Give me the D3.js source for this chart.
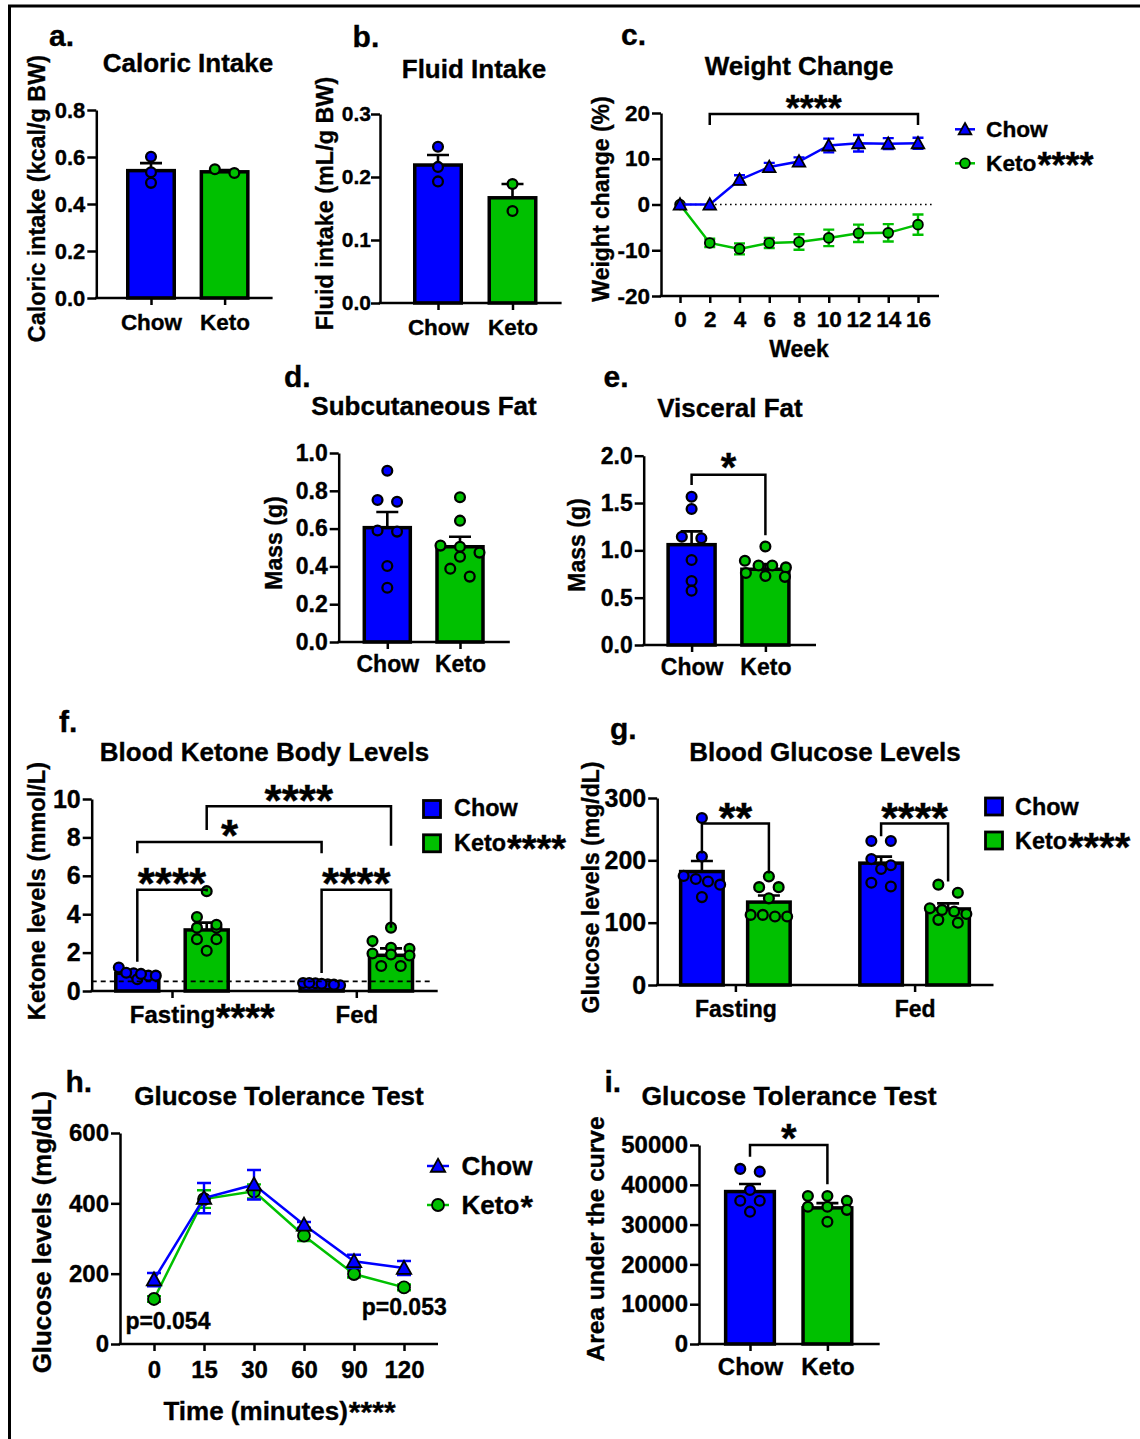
<!DOCTYPE html>
<html>
<head>
<meta charset="utf-8">
<script src="https://cdn.jsdelivr.net/npm/d3@7"></script>
<style>
  body { margin: 0; background: #fff; }
  text { font-family: "Liberation Sans", Arial, Helvetica, sans-serif; font-weight: bold; fill: #000; stroke: #000; stroke-width: 0.35px; }
</style>
</head>
<body>
<div id="chart"></div>
<script>
const groups = ["Chow", "Keto"];
const meals = ["Fasting", "Fed"];

// a. caloric intake
const calMean = [0.542, 0.537];
const calSem = [0.032, 0.008];
const calChow = [0.601, 0.535, 0.49];
const calKeto = [0.532, 0.548];

// b. fluid intake
const fluMean = [0.219, 0.167];
const fluSem = [0.016, 0.022];
const fluChow = [0.248, 0.216, 0.193];
const fluKeto = [0.189, 0.146];

// c. weight change
const weeks = [0, 2, 4, 6, 8, 10, 12, 14, 16];
const wtChow = [0, 0, 5.4, 8.2, 9.4, 12.9, 13.4, 13.3, 13.4];
const wtChowErr = [0, 0, 1.0, 0.9, 0.9, 1.5, 1.8, 1.2, 1.2];
const wtKeto = [0, -8.4, -9.7, -8.4, -8.2, -7.3, -6.3, -6.2, -4.4];
const wtKetoErr = [0, 0.9, 1.2, 1.1, 1.7, 1.8, 1.9, 1.9, 2.2];

// d. subcutaneous fat
const subMean = [0.605, 0.504];
const subSem = [0.083, 0.053];
const subChow = [0.906, 0.742, 0.751, 0.584, 0.59, 0.402, 0.287];
const subKeto = [0.766, 0.642, 0.504, 0.473, 0.51, 0.451, 0.388, 0.346];

// e. visceral fat
const visMean = [1.06, 0.80];
const visSem = [0.14, 0.054];
const visChow = [1.567, 1.437, 1.144, 1.127, 0.898, 0.676, 0.574];
const visKeto = [1.04, 0.89, 0.84, 0.84, 0.82, 0.76, 0.73, 0.72];

// f. ketone bodies  (rows: Fasting, Fed; cols: Chow, Keto)
const ketMean = [[0.92, 3.18], [0.37, 1.86]];
const ketSem = [[0.08, 0.38], [0.03, 0.36]];
const ketPts = [
  [[0.80, 0.92, 0.80, 1.22, 0.61, 0.89, 0.95], [5.2, 3.85, 3.3, 3.3, 3.45, 2.7, 2.7, 2.1]],
  [[0.40, 0.42, 0.35, 0.30, 0.38, 0.33, 0.42], [3.3, 2.6, 2.25, 2.2, 1.85, 1.9, 1.95, 1.3, 1.3]]
];
const ketThreshold = 0.5;

// g. blood glucose
const gluMean = [[182, 133], [195.5, 122]];
const gluSem = [[17, 10.5], [10.5, 9]];
const gluPts = [
  [[268, 206, 175, 166, 170, 161, 141], [174, 157, 157, 139, 110, 112.5, 110, 112.5]],
  [[231, 231, 202, 192, 186, 158, 164], [161, 148, 118, 120.5, 123, 114, 100, 104.5]]
];

// h. glucose tolerance test
const gttTimes = ["0", "15", "30", "60", "90", "120"];
const gttChow = [183, 415, 453, 339, 235, 216];
const gttChowErr = [19, 43, 42, 8, 19, 20];
const gttKeto = [128, 412, 434, 308, 199, 161];
const gttKetoErr = [8, 25, 20, 15, 10, 8];

// i. area under the curve
const aucMean = [38300, 34200];
const aucSem = [1900, 1200];
const aucChow = [43300, 44000, 38700, 36000, 36000, 33250];
const aucKeto = [36000, 37200, 37200, 34500, 34500, 33700, 30700];

const BLUE = "#0000ff";
const GREEN = "#00c000";
const colors = [BLUE, GREEN];
const STAR_K = 0.58;

const svg = d3.select("#chart").append("svg")
  .attr("width", 1140)
  .attr("height", 1439);

// frame
svg.append("path")
  .attr("d", "M9.5,1439V6H1140")
  .attr("fill", "none").attr("stroke", "#000").attr("stroke-width", 3);

/* ------------------------------- helpers ------------------------------- */
const text = (x, y, str, fs, anchor = "start") =>
  svg.append("text").attr("x", x).attr("y", y)
    .attr("font-size", fs).attr("text-anchor", anchor).text(str);

const yLabel = (bx, cy, str, fs) =>
  svg.append("text")
    .attr("transform", `translate(${bx},${cy}) rotate(-90)`)
    .attr("text-anchor", "middle").attr("font-size", fs).text(str);

const stars = (x, cy, n, fs, anchor = "middle") =>
  text(x, cy + STAR_K * fs, "*".repeat(n), fs, anchor);

// text followed by bigger stars
const withStars = (x, y, str, fs, n, sfs, scy, anchor = "start") => {
  const t = text(x, y, str, fs, anchor);
  const len = t.node().getComputedTextLength();
  if (anchor === "start") {
    stars(x + len + 1, scy, n, sfs, "start");
  } else {
    // centre text + stars together
    const s = stars(0, scy, n, sfs, "start");
    const sl = s.node().getComputedTextLength();
    const x0 = x - (len + sl) / 2;
    t.attr("x", x0).attr("text-anchor", "start");
    s.attr("x", x0 + len + 1);
  }
};

function yAxis(y, x0, ticks, fmt, fs, pad = 2) {
  const g = svg.append("g")
    .attr("transform", `translate(${x0},0)`)
    .call(d3.axisLeft(y).tickValues(ticks).tickFormat(fmt)
      .tickSize(9).tickSizeOuter(0).tickPadding(pad));
  g.attr("font-size", fs);
  g.select(".domain").attr("stroke-width", 2.5);
  g.selectAll(".tick line").attr("stroke-width", 2.5);
  return g;
}

function xAxis(x, y0, xs, xe, labOff, fs, fmt) {
  svg.append("line")
    .attr("x1", xs - 1.25).attr("x2", xe)
    .attr("y1", y0).attr("y2", y0)
    .attr("stroke", "#000").attr("stroke-width", 2.5);
  const ax = d3.axisBottom(x).tickSize(7).tickSizeOuter(0);
  if (fmt) ax.tickFormat(fmt);
  const g = svg.append("g")
    .attr("transform", `translate(0,${y0})`)
    .call(ax);
  g.select(".domain").remove();
  g.attr("font-size", fs);
  g.selectAll(".tick line").attr("stroke-width", 2.5);
  g.selectAll(".tick text").attr("y", labOff).attr("dy", null);
  return g;
}

function bracket(x1, x2, yTop, yL, yR) {
  svg.append("path")
    .attr("d", `M${x1},${yL}V${yTop}H${x2}V${yR}`)
    .attr("fill", "none").attr("stroke", "#000").attr("stroke-width", 2.5);
}

// GraphPad-like scatter: points binned by height, each row spread symmetrically
function spread(vals, y, bw, d = 9, s = 19.5) {
  const order = d3.range(vals.length).sort((a, b) => vals[b] - vals[a]);
  const off = vals.map(() => 0);
  let bin = [], top = null;
  const flush = () => {
    const n = bin.length;
    const step = n > 1 ? Math.min(s, (bw - 6) / (n - 1)) : 0;
    bin.forEach((k, j) => { off[k] = (j - (n - 1) / 2) * step; });
  };
  for (const k of order) {
    const py = y(vals[k]);
    if (top === null || py - top >= d) { flush(); bin = []; top = py; }
    bin.push(k);
  }
  flush();
  return off;
}

function bar(cx, y, bw, mean, sem, pts, color) {
  svg.append("rect")
    .attr("x", cx - bw / 2).attr("y", y(mean))
    .attr("width", bw).attr("height", y(0) - y(mean))
    .attr("fill", color).attr("stroke", "#000").attr("stroke-width", 3.5);
  const ye = y(mean + sem);
  svg.append("path")
    .attr("d", `M${cx},${y(mean)}V${ye}M${cx - 11},${ye}H${cx + 11}`)
    .attr("fill", "none").attr("stroke", "#000").attr("stroke-width", 2.6);
  const off = spread(pts, y, bw);
  svg.append("g").selectAll("circle")
    .data(pts)
    .join("circle")
    .attr("cx", (d, i) => cx + off[i])
    .attr("cy", d => y(d))
    .attr("r", 4.9)
    .attr("fill", color).attr("stroke", "#000").attr("stroke-width", 2.3);
}

function marker(type, cx, cy, sz, color) {
  if (type === "tri") {
    svg.append("path")
      .attr("d", `M${cx},${cy - sz}L${cx + sz},${cy + sz * 0.8}L${cx - sz},${cy + sz * 0.8}Z`)
      .attr("fill", color).attr("stroke", "#000").attr("stroke-width", 1.8);
  } else {
    svg.append("circle")
      .attr("cx", cx).attr("cy", cy).attr("r", sz * 0.75)
      .attr("fill", color).attr("stroke", "#000").attr("stroke-width", 1.8);
  }
}

function lineSeries(x, y, xs, vals, err, color, type, sz, capW) {
  svg.append("path")
    .attr("d", d3.line()(xs.map((t, i) => [x(t), y(vals[i])])))
    .attr("fill", "none").attr("stroke", color).attr("stroke-width", 2.5);
  xs.forEach((t, i) => {
    if (!err[i]) return;
    const px = x(t), y1 = y(vals[i] + err[i]), y2 = y(vals[i] - err[i]);
    svg.append("path")
      .attr("d", `M${px},${y1}V${y2}M${px - capW / 2},${y1}H${px + capW / 2}M${px - capW / 2},${y2}H${px + capW / 2}`)
      .attr("fill", "none").attr("stroke", color).attr("stroke-width", 2.4);
  });
  xs.forEach((t, i) => marker(type, x(t), y(vals[i]), sz, color));
}

function lineLegend(x1, x2, cy, type, sz, color) {
  svg.append("line").attr("x1", x1).attr("x2", x2).attr("y1", cy).attr("y2", cy)
    .attr("stroke", color).attr("stroke-width", 2.5);
  marker(type, (x1 + x2) / 2, cy, sz, color);
}

function boxLegend(cx, cy, color) {
  svg.append("rect").attr("x", cx - 8.5).attr("y", cy - 8.5)
    .attr("width", 17).attr("height", 17)
    .attr("fill", color).attr("stroke", "#000").attr("stroke-width", 2.8);
}

const f1 = d3.format(".1f");
const fd = d => String(d);

/* ------------------------------- a. ------------------------------- */
{
  const y = d3.scaleLinear([0, 0.8], [298, 110]);
  const x = d3.scalePoint(groups, [151, 224.6]);
  bar(x("Chow"), y, 46.5, calMean[0], calSem[0], calChow, BLUE);
  bar(x("Keto"), y, 46.5, calMean[1], calSem[1], calKeto, GREEN);
  yAxis(y, 96.3, [0, 0.2, 0.4, 0.6, 0.8], f1, 22);
  xAxis(x, 298, 96.3, 272.6, 32, 22.5);
  text(49, 46, "a.", 30);
  text(188, 72, "Caloric Intake", 26, "middle");
  yLabel(45, 198.5, "Caloric intake (kcal/g BW)", 23.4);
}

/* ------------------------------- b. ------------------------------- */
{
  const y = d3.scaleLinear([0, 0.3], [303, 114]);
  const x = d3.scalePoint(groups, [438, 512.5]);
  bar(x("Chow"), y, 46.5, fluMean[0], fluSem[0], fluChow, BLUE);
  bar(x("Keto"), y, 46.5, fluMean[1], fluSem[1], fluKeto, GREEN);
  yAxis(y, 380, [0, 0.1, 0.2, 0.3], f1, 21, 0);
  xAxis(x, 303, 380, 561.6, 32, 22.5);
  text(352.6, 47, "b.", 30);
  text(474, 78, "Fluid Intake", 26, "middle");
  yLabel(333, 203.5, "Fluid intake (mL/g BW)", 23.4);
}

/* ------------------------------- c. ------------------------------- */
{
  const x = d3.scaleLinear([0, 16], [680, 918]);
  const y = d3.scaleLinear([-20, 20], [296, 113]);
  svg.append("line")
    .attr("x1", x(0)).attr("x2", 933.5).attr("y1", y(0)).attr("y2", y(0))
    .attr("stroke", "#000").attr("stroke-width", 1.6).attr("stroke-dasharray", "1.6,3.4");
  lineSeries(x, y, weeks, wtKeto, wtKetoErr, GREEN, "circ", 6.5, 11);
  lineSeries(x, y, weeks, wtChow, wtChowErr, BLUE, "tri", 6.3, 11);
  yAxis(y, 661, [-20, -10, 0, 10, 20], fd, 22.5);
  xAxis(x, 296, 661, 939, 31, 22.5, fd);
  text(799, 357, "Week", 23, "middle");
  bracket(x(2), x(16), 114, 125, 125);
  stars((x(2) + x(16)) / 2, 100, 4, 36);
  lineLegend(955, 975, 129.3, "tri", 6.3, BLUE);
  text(986, 136.7, "Chow", 22.7);
  lineLegend(955, 975, 163.3, "circ", 6.5, GREEN);
  withStars(986, 170.7, "Keto", 22.7, 4, 36, 157);
  text(621, 45, "c.", 30);
  text(799, 75, "Weight Change", 26, "middle");
  yLabel(609, 199, "Weight change (%)", 23);
}

/* ------------------------------- d. ------------------------------- */
{
  const y = d3.scaleLinear([0, 1], [642, 453]);
  const x = d3.scalePoint(groups, [387.3, 460]);
  bar(x("Chow"), y, 46, subMean[0], subSem[0], subChow, BLUE);
  bar(x("Keto"), y, 46, subMean[1], subSem[1], subKeto, GREEN);
  yAxis(y, 338.7, [0, 0.2, 0.4, 0.6, 0.8, 1.0], f1, 23);
  xAxis(x, 642, 338.7, 509.8, 30, 23);
  text(284, 387, "d.", 30);
  text(424, 415, "Subcutaneous Fat", 26, "middle");
  yLabel(282, 543, "Mass (g)", 23);
}

/* ------------------------------- e. ------------------------------- */
{
  const y = d3.scaleLinear([0, 2], [645, 455.7]);
  const x = d3.scalePoint(groups, [691.6, 765.4]);
  bar(x("Chow"), y, 47, visMean[0], visSem[0], visChow, BLUE);
  bar(x("Keto"), y, 47, visMean[1], visSem[1], visKeto, GREEN);
  yAxis(y, 643.7, [0, 0.5, 1.0, 1.5, 2.0], f1, 23);
  xAxis(x, 645, 643.7, 816, 30, 23);
  bracket(x("Chow"), x("Keto"), y(1.80), y(1.69), y(1.16));
  stars((x("Chow") + x("Keto")) / 2, y(1.80) - 16.5, 1, 40);
  text(603.6, 387, "e.", 30);
  text(730, 417, "Visceral Fat", 26, "middle");
  yLabel(585, 545, "Mass (g)", 23);
}

/* ------------------------------- f. ------------------------------- */
{
  const y = d3.scaleLinear([0, 10], [991, 799]);
  const xg = d3.scalePoint(meals, [172, 356.3]);
  const xs = d3.scalePoint(groups, [-34.7, 34.7]);
  const cx = (m, g) => xg(meals[m]) + xs(groups[g]);
  meals.forEach((m, mi) => groups.forEach((g, gi) =>
    bar(cx(mi, gi), y, 43, ketMean[mi][gi], ketSem[mi][gi], ketPts[mi][gi], colors[gi])));
  svg.append("line")
    .attr("x1", 91.7).attr("x2", 432.8).attr("y1", y(ketThreshold)).attr("y2", y(ketThreshold))
    .attr("stroke", "#000").attr("stroke-width", 1.6).attr("stroke-dasharray", "5,4");
  yAxis(y, 91.7, [0, 2, 4, 6, 8, 10], fd, 25);
  const ax = xAxis(xg, 991, 91.7, 437.7, 32, 24);
  ax.selectAll(".tick text").filter(d => d === "Fasting").each(function () {
    const len = this.getComputedTextLength();
    stars(xg("Fasting") + len / 2 + 1, 1009, 4, 38, "start");
  });
  bracket(cx(0, 0), cx(0, 1), y(5.27), y(1.52), y(5.18));
  stars((cx(0, 0) + cx(0, 1)) / 2, y(5.27) - 16.5, 4, 44);
  bracket(cx(1, 0), cx(1, 1), y(5.27), y(0.94), y(3.29));
  stars((cx(1, 0) + cx(1, 1)) / 2, y(5.27) - 16.5, 4, 44);
  bracket(cx(0, 0), cx(1, 0), y(7.76), y(7.17), y(7.17));
  stars((cx(0, 0) + cx(1, 0)) / 2, y(7.76) - 16.5, 1, 44);
  bracket(cx(0, 1), cx(1, 1), y(9.62), y(8.39), y(7.56));
  stars((cx(0, 1) + cx(1, 1)) / 2, y(9.62) - 16, 4, 44);
  boxLegend(432, 809, BLUE);
  text(454, 815.5, "Chow", 23.4);
  boxLegend(432, 843.3, GREEN);
  withStars(454, 851, "Keto", 23.4, 4, 38, 840);
  text(59, 732, "f.", 30);
  text(264.5, 761, "Blood Ketone Body Levels", 26, "middle");
  yLabel(45, 891, "Ketone levels (mmol/L)", 23.6);
}

/* ------------------------------- g. ------------------------------- */
{
  const y = d3.scaleLinear([0, 300], [985, 798]);
  const xg = d3.scalePoint(meals, [735.4, 914.6]);
  const xs = d3.scalePoint(groups, [-33.5, 33.5]);
  const cx = (m, g) => xg(meals[m]) + xs(groups[g]);
  meals.forEach((m, mi) => groups.forEach((g, gi) =>
    bar(cx(mi, gi), y, 42.5, gluMean[mi][gi], gluSem[mi][gi], gluPts[mi][gi], colors[gi])));
  yAxis(y, 657.2, [0, 100, 200, 300], fd, 25);
  xAxis(xg, 985, 657.2, 993.5, 32, 23);
  bracket(cx(0, 0), cx(0, 1), y(259), y(211), y(179));
  stars((cx(0, 0) + cx(0, 1)) / 2, y(259) - 16, 2, 43);
  bracket(cx(1, 0), cx(1, 1), y(259), y(238.5), y(166));
  stars((cx(1, 0) + cx(1, 1)) / 2, y(259) - 16, 4, 43);
  boxLegend(994, 806.5, BLUE);
  text(1015, 815, "Chow", 23.4);
  boxLegend(994, 840.5, GREEN);
  withStars(1015, 848.5, "Keto", 23.4, 4, 40, 837.5);
  text(610, 739, "g.", 30);
  text(825, 761, "Blood Glucose Levels", 26, "middle");
  yLabel(599, 887.5, "Glucose levels (mg/dL)", 23);
}

/* ------------------------------- h. ------------------------------- */
{
  const x = d3.scalePoint(gttTimes, [154, 404]);
  const y = d3.scaleLinear([0, 600], [1344, 1133]);
  lineSeries(x, y, gttTimes, gttKeto, gttKetoErr, GREEN, "circ", 8, 14);
  lineSeries(x, y, gttTimes, gttChow, gttChowErr, BLUE, "tri", 7.2, 14);
  yAxis(y, 120, [0, 200, 400, 600], fd, 24);
  xAxis(x, 1344, 120, 438, 34, 24);
  withStars(279, 1420, "Time (minutes)", 26, 4, 30, 1405, "center");
  text(125.4, 1329.3, "p=0.054", 23);
  text(361.7, 1315, "p=0.053", 23);
  lineLegend(427, 449, 1166, "tri", 7.2, BLUE);
  text(461.6, 1175, "Chow", 26);
  lineLegend(427, 449, 1205, "circ", 8, GREEN);
  withStars(461.6, 1214, "Keto", 26, 1, 32, 1199);
  text(65.4, 1092, "h.", 30);
  text(279, 1105, "Glucose Tolerance Test", 26, "middle");
  yLabel(51, 1232, "Glucose levels (mg/dL)", 25.8);
}

/* ------------------------------- i. ------------------------------- */
{
  const y = d3.scaleLinear([0, 50000], [1344, 1145]);
  const x = d3.scalePoint(groups, [750, 827.4]);
  bar(x("Chow"), y, 48.7, aucMean[0], aucSem[0], aucChow, BLUE);
  bar(x("Keto"), y, 48.7, aucMean[1], aucSem[1], aucKeto, GREEN);
  yAxis(y, 699, [0, 10000, 20000, 30000, 40000, 50000], fd, 24);
  xAxis(x, 1344, 699, 879.7, 31, 24);
  bracket(x("Chow"), x("Keto"), y(50000), y(47060), y(40150));
  stars((x("Chow") + x("Keto")) / 2, 1129, 1, 40);
  text(604.5, 1092, "i.", 30);
  text(789, 1105, "Glucose Tolerance Test", 26.5, "middle");
  yLabel(604, 1239, "Area under the curve", 24.5);
}
</script>
</body>
</html>
